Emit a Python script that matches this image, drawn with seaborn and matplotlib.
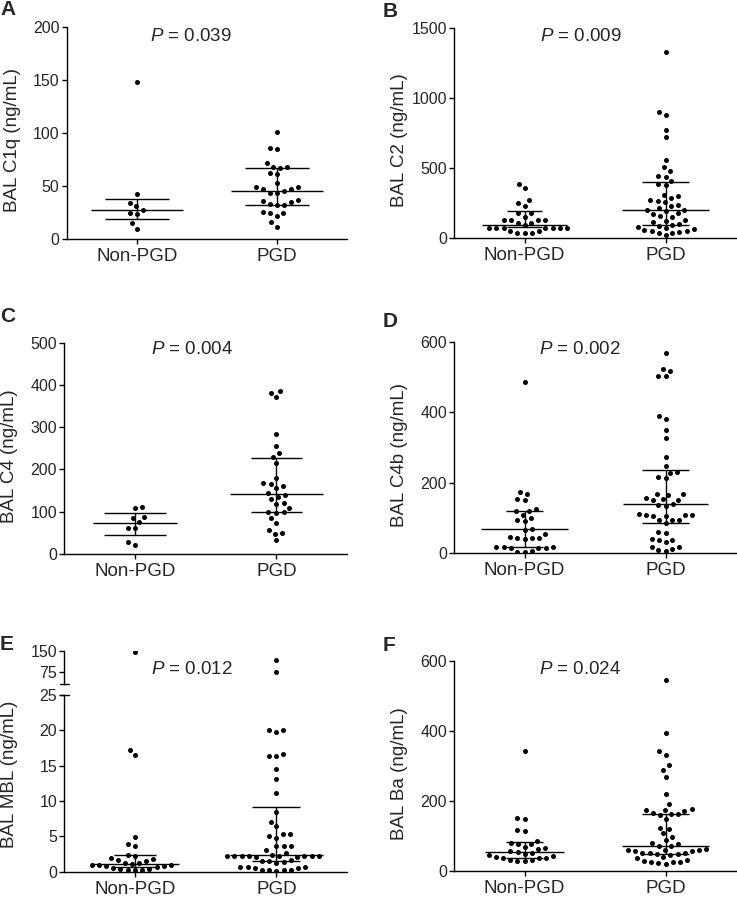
import matplotlib
matplotlib.use("Agg")
import pandas as pd
import matplotlib.pyplot as plt
import seaborn as sns

sns.set_theme(style="ticks")
plt.rcParams["font.family"] = ["Liberation Sans", "DejaVu Sans"]
plt.rcParams["mathtext.fontset"] = "custom"
plt.rcParams["mathtext.it"] = "Liberation Sans:italic"
plt.rcParams["mathtext.rm"] = "Liberation Sans"

groups = ["Non-PGD", "PGD"]

# A - C1q
c1q_non = [148, 43, 34, 31, 28, 25, 24, 15, 10]
c1q_pgd = [101, 86, 85, 72, 68, 68, 67, 62, 61, 53, 49, 49, 47, 47, 45, 44, 44,
           37, 36, 35, 33, 32, 32, 26, 25, 25, 22, 16, 12]
c1q_stats = [[27.5, 19, 38], [45.5, 32.5, 67.5]]   # median, q1, q3

# B - C2
c2_non = [389, 356, 271, 250, 230, 178, 178, 154, 128, 128, 128, 128, 110, 107,
          93, 71, 71, 71, 71, 71, 71, 71, 55, 55, 36, 36, 36]
c2_pgd = [1325, 900, 880, 770, 720, 560, 510, 480, 445, 440, 410, 390, 380, 310,
          300, 290, 270, 265, 260, 240, 230, 215, 200, 200, 195, 180, 175, 160,
          150, 130, 125, 115, 100, 95, 85, 80, 70, 65, 60, 55, 50, 45, 40, 35, 20]
c2_stats = [[93, 80, 197], [204, 95, 401]]

# C - C4
c4_non = [112, 110, 87, 86, 75, 62, 61, 28, 22]
c4_pgd = [386, 382, 372, 284, 256, 240, 230, 215, 180, 168, 165, 160, 155, 145,
          140, 135, 130, 120, 118, 110, 100, 100, 98, 85, 73, 57, 50, 48, 32]
c4_stats = [[73, 44, 97], [142, 99, 227]]

# D - C4b
c4b_non = [485, 173, 168, 154, 150, 125, 120, 120, 109, 99, 94, 90, 67, 65, 54,
           45, 44, 43, 42, 40, 18, 17, 16, 15, 14, 13, 5, 4, 3]
c4b_pgd = [568, 522, 518, 504, 503, 390, 381, 350, 326, 274, 248, 230, 228, 215,
           212, 168, 167, 165, 155, 153, 152, 150, 140, 136, 135, 110, 109, 108,
           107, 106, 105, 95, 94, 93, 85, 60, 58, 40, 38, 37, 30, 18, 16, 12, 8, 6]
c4b_stats = [[67, 18, 120], [140, 84, 237]]

# E - MBL (broken axis)
mbl_non = [146, 17.2, 16.5, 4.9, 3.9, 3.7, 2.4, 2.2, 1.9, 1.8, 1.7, 1.5, 1.3, 1.2,
           1.1, 1.0, 0.9, 0.9, 0.8, 0.8, 0.6, 0.5, 0.4, 0.4, 0.3, 0.3, 0.2]
mbl_pgd = [117, 76, 20.1, 20.0, 19.7, 16.7, 16.3, 16.3, 14.5, 13.1, 11.2, 8.5, 7.1,
           6.5, 5.4, 5.3, 5.0, 4.8, 3.7, 3.6, 3.6, 3.0, 2.6, 2.4, 2.2, 2.2, 2.2,
           2.2, 2.2, 2.2, 2.2, 2.2, 2.1, 2.1, 1.6, 1.5, 1.5, 1.4, 1.3, 0.7, 0.6,
           0.6, 0.5, 0.5, 0.3, 0.2, 0.2, 0.2, 0.1]
mbl_stats = [[1.15, 0.6, 2.35], [2.3, 1.5, 9.2]]

# F - Ba
ba_non = [342, 152, 148, 118, 115, 86, 80, 78, 76, 68, 65, 62, 58, 55, 52, 48, 45,
          42, 40, 38, 37, 36, 32, 30, 28, 28]
ba_pgd = [545, 394, 342, 332, 302, 288, 269, 220, 190, 176, 175, 174, 172, 165,
          163, 162, 160, 148, 124, 120, 107, 96, 88, 80, 76, 72, 70, 62, 61, 60,
          59, 58, 57, 52, 50, 50, 49, 48, 47, 40, 36, 30, 28, 27, 26, 25, 22, 21]
ba_stats = [[53, 36, 82], [72, 48, 162]]

p_values = ["0.039", "0.009", "0.004", "0.002", "0.012", "0.024"]
ylabels = ["BAL C1q (ng/mL)", "BAL C2 (ng/mL)", "BAL C4 (ng/mL)",
           "BAL C4b (ng/mL)", "BAL MBL (ng/mL)", "BAL Ba (ng/mL)"]
letters = ["A", "B", "C", "D", "E", "F"]

W, H = 737, 897
fig = plt.figure(figsize=(W / 100, H / 100), dpi=100)


def px_axes(left, top, right, bottom):
    return fig.add_axes([left / W, 1 - bottom / H, (right - left) / W, (bottom - top) / H])


def style(ax, ticksize=11.5):
    sns.despine(ax=ax)
    for s in ["left", "bottom"]:
        ax.spines[s].set_linewidth(1.0)
        ax.spines[s].set_color("black")
    ax.tick_params(axis="both", length=3.6, width=1.0, color="black")
    ax.tick_params(axis="y", labelsize=ticksize, pad=1.5)
    ax.tick_params(axis="x", labelsize=13.5, pad=3)
    ax.set_xlabel("")


def swarm(ax, non, pgd):
    df = pd.DataFrame({"group": ["Non-PGD"] * len(non) + ["PGD"] * len(pgd),
                       "value": list(non) + list(pgd)})
    # transparent edge widens the swarm spacing without enlarging the dots
    sns.swarmplot(data=df, x="group", y="value", order=groups, color="black",
                  size=3.6, linewidth=1.4, edgecolor=(1, 1, 1, 0), ax=ax, zorder=2)


def bars(ax, stats, caps):
    for i, ((med, q1, q3), (cm, cq)) in enumerate(zip(stats, caps)):
        ax.hlines(med, i - cm, i + cm, color="black", lw=1.0, zorder=3)
        ax.hlines([q1, q3], i - cq, i + cq, color="black", lw=1.0, zorder=3)
        ax.vlines(i, q1, q3, color="black", lw=1.0, zorder=3)


panels = [
    (c1q_non, c1q_pgd, c1q_stats, (66.7, 26.7, 347, 239.3), (0, 200), [0, 50, 100, 150, 200],
     [(0.33, 0.23), (0.33, 0.23)], (0.443, 0.933)),
    (c2_non, c2_pgd, c2_stats, (454, 27.7, 736, 238.3), (0, 1500), [0, 500, 1000, 1500],
     [(0.30, 0.125), (0.31, 0.17)], (0.449, 0.937)),
    (c4_non, c4_pgd, c4_stats, (64.3, 342.7, 347, 554), (0, 500), [0, 100, 200, 300, 400, 500],
     [(0.30, 0.22), (0.33, 0.18)], (0.451, 0.945)),
    (c4b_non, c4b_pgd, c4b_stats, (454, 342, 736, 553), (0, 600), [0, 200, 400, 600],
     [(0.31, 0.13), (0.30, 0.17)], (0.448, 0.942)),
    None,
    (ba_non, ba_pgd, ba_stats, (454, 660.7, 736, 871), (0, 600), [0, 200, 400, 600],
     [(0.28, 0.13), (0.31, 0.17)], (0.448, 0.937)),
]

for k, panel in enumerate(panels):
    if panel is None:
        continue
    non, pgd, stats, box, ylim, yticks, caps, ptxt = panel
    ax = px_axes(*box)
    swarm(ax, non, pgd)
    bars(ax, stats, caps)
    ax.set_ylim(*ylim)
    ax.set_yticks(yticks)
    ax.set_xlim(-0.5, 1.5)
    style(ax)
    ax.set_ylabel(ylabels[k], fontsize=13.5)
    ax.yaxis.set_label_coords(-0.163, 0.465)
    ax.text(ptxt[0], ptxt[1], "$P$ = " + p_values[k], transform=ax.transAxes,
            ha="center", va="baseline", fontsize=13.5)

# panel E with broken y axis
ax_lo = px_axes(64.3, 695, 347, 871.7)
ax_hi = px_axes(64.3, 650.7, 347, 684)
ax_hi.patch.set_visible(False)
lo_non = [v for v in mbl_non if v <= 25]
lo_pgd = [v for v in mbl_pgd if v <= 25]
hi_non = [v for v in mbl_non if v > 25]
hi_pgd = [v for v in mbl_pgd if v > 25]
swarm(ax_lo, lo_non, lo_pgd)
bars(ax_lo, mbl_stats, [(0.31, 0.15), (0.33, 0.17)])
ax_lo.set_ylim(0, 25)
ax_lo.set_yticks([0, 5, 10, 15, 20, 25])
ax_lo.set_xlim(-0.5, 1.5)
style(ax_lo)
ax_lo.set_ylabel(ylabels[4], fontsize=13.5)
ax_lo.yaxis.set_label_coords(-0.163, 0.553)

swarm(ax_hi, hi_non, hi_pgd)
ax_hi.set_ylim(33, 150)
ax_hi.set_yticks([75, 150])
ax_hi.set_xlim(-0.5, 1.5)
style(ax_hi)
ax_hi.spines["bottom"].set_visible(False)
ax_hi.tick_params(axis="x", bottom=False, labelbottom=False)
ax_hi.set_ylabel("")
# break caps at the segment ends
ax_hi.plot([-0.015, 0.015], [0, 0], transform=ax_hi.transAxes, color="black",
           lw=1.0, clip_on=False)
ax_lo.plot([-0.015, 0.015], [1, 1], transform=ax_lo.transAxes, color="black",
           lw=1.0, clip_on=False)
fig.text(191.7 / W, 1 - 674 / H, "$P$ = " + p_values[4], ha="center",
         va="baseline", fontsize=13.5)

letter_pos = [(0, 15), (383, 17), (0, 322), (383, 327), (0, 650), (383, 651)]
for letter, (x, y) in zip(letters, letter_pos):
    fig.text(x / W, 1 - y / H, letter, fontsize=15, fontweight="bold",
             ha="left", va="baseline")

fig.savefig("out.png", dpi=100)
